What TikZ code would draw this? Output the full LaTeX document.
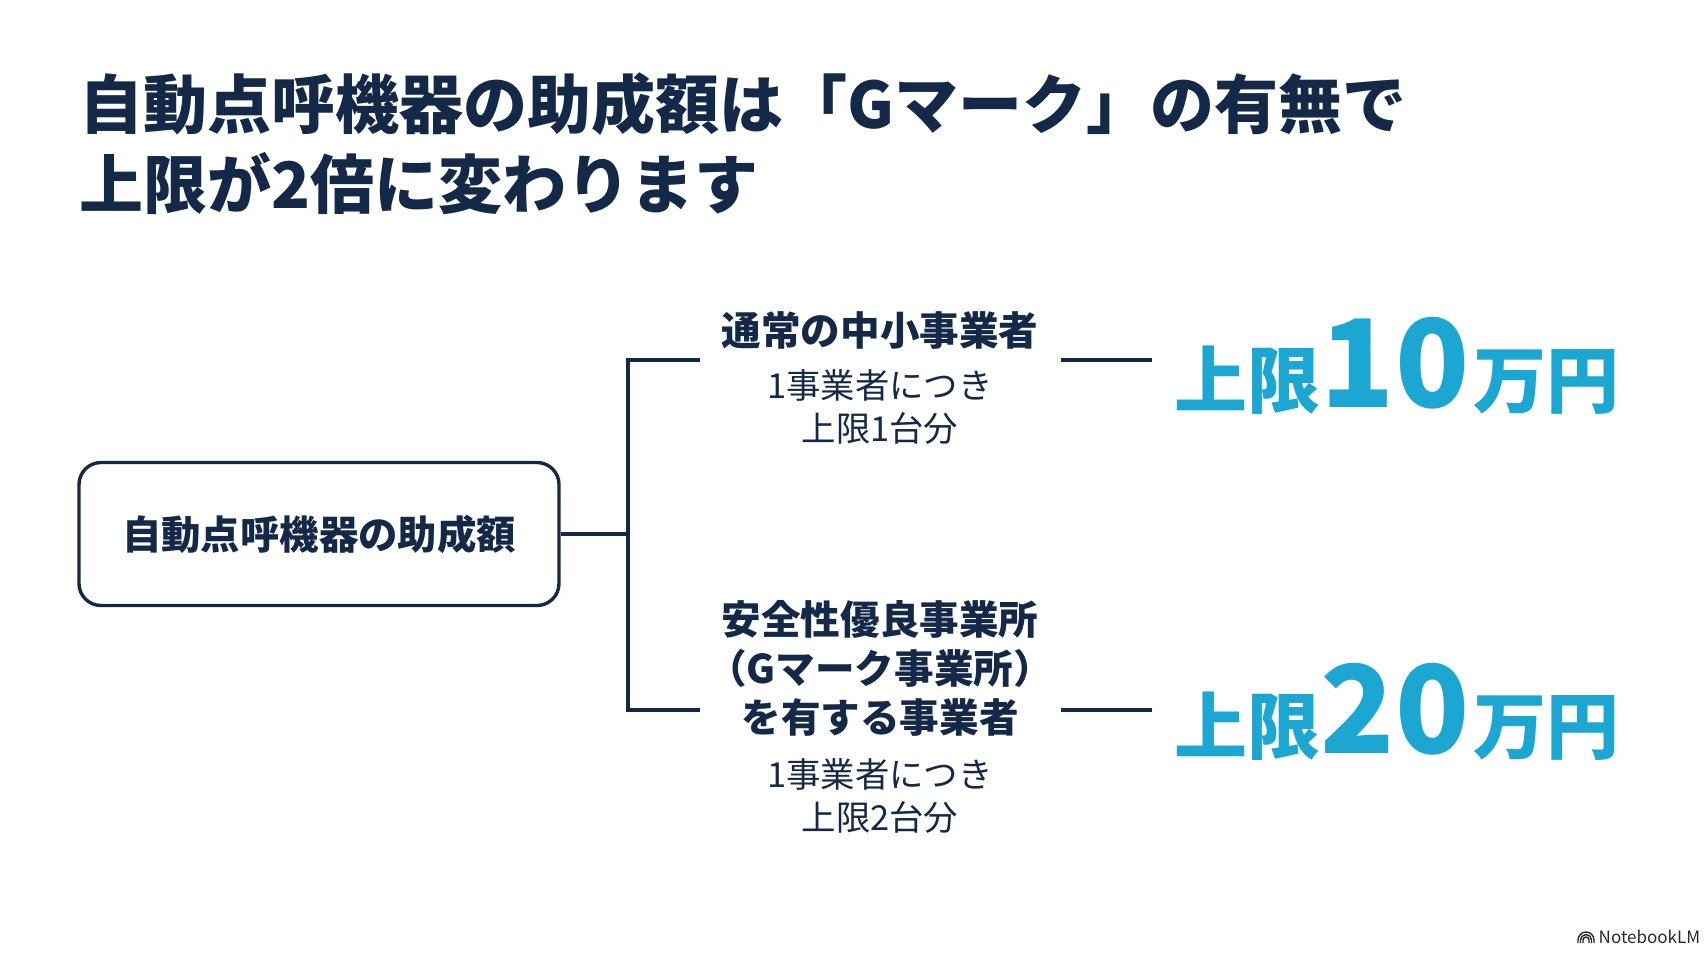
\documentclass[tikz,border=0pt]{standalone}
\usepackage{fontspec}
\setmainfont{Noto Sans CJK JP}
\usetikzlibrary{positioning}
\definecolor{gnavy}{RGB}{20,40,72}
\definecolor{gcyan}{RGB}{28,166,210}
\definecolor{markgray}{RGB}{40,40,40}

\begin{document}
\begin{tikzpicture}[x=0.5pt, y=-0.5pt, line width=1.7pt,
  every node/.style={inner sep=0pt, text=gnavy},
  titletext/.style={anchor=base west, font=\bfseries\fontsize{32}{38}\selectfont},
  groupbox/.style={draw=gnavy, rounded corners=11pt, minimum width=240pt, minimum height=71.5pt, font=\bfseries\fontsize{19.7}{24}\selectfont},
  headtext/.style={anchor=base, font=\bfseries\fontsize{19.8}{24}\selectfont},
  subtext/.style={anchor=base, font=\fontsize{17.2}{21}\selectfont},
  amount/.style={anchor=base west, text=gcyan, font=\bfseries\fontsize{36.5}{40}\selectfont},
  link/.style={draw=gnavy, line width=1.7pt}]
  \useasboundingbox (0,0) rectangle (1707,960);
  % title
  \node[titletext] (title1) at (78,128) {自動点呼機器の助成額は「Gマーク」の有無で};
  \node[titletext] (title2) at (78,208) {上限が2倍に変わります};
  % root box
  \node[groupbox] (subsidy) at (319,534) {自動点呼機器の助成額};
  % branch texts
  \node[headtext] (normal) at (880,345) {通常の中小事業者};
  \node[subtext] (normal1) at (880,398) {1事業者につき};
  \node[subtext] (normal2) at (880,441) {上限1台分};
  \node[headtext] (gmark1) at (880,634) {安全性優良事業所};
  \node[headtext] (gmark2) at (880,683) {（Gマーク事業所）};
  \node[headtext] (gmark3) at (880,732) {を有する事業者};
  \node[subtext] (gmark4) at (880,787) {1事業者につき};
  \node[subtext] (gmark5) at (880,830) {上限2台分};
  % amounts
  \node[amount] (cap1) at (1173,407) {上限{\fontsize{61}{61}\selectfont 10}\hspace{2pt}万円};
  \node[amount] (cap2) at (1173,753) {上限{\fontsize{61}{61}\selectfont 20}\hspace{2pt}万円};
  % connectors
  \coordinate (jn) at (628,534);
  \coordinate (b1) at (700,360);
  \coordinate (b2) at (700,710);
  \draw[link] (subsidy.east) -- (jn);
  \draw[link] (b1) -| (jn) |- (b2);
  \foreach \k/\y in {1/360,2/710} {
    \coordinate (d\k a) at (1061,\y);
    \coordinate (d\k b) at (1152,\y);
    \draw[link] (d\k a) -- (d\k b);
  }
  % watermark
  \node[anchor=base west, text=markgray, font=\fontsize{8.5}{10}\selectfont] (brand) at (1597,943) {NotebookLM};
  \foreach \r in {3,5.5,8} {
    \draw[markgray, line width=0.7pt] (1586-\r,943) -- ++(0,-3) arc[start angle=180, end angle=360, radius=\r] -- ++(0,3);
  }
\end{tikzpicture}
\end{document}
